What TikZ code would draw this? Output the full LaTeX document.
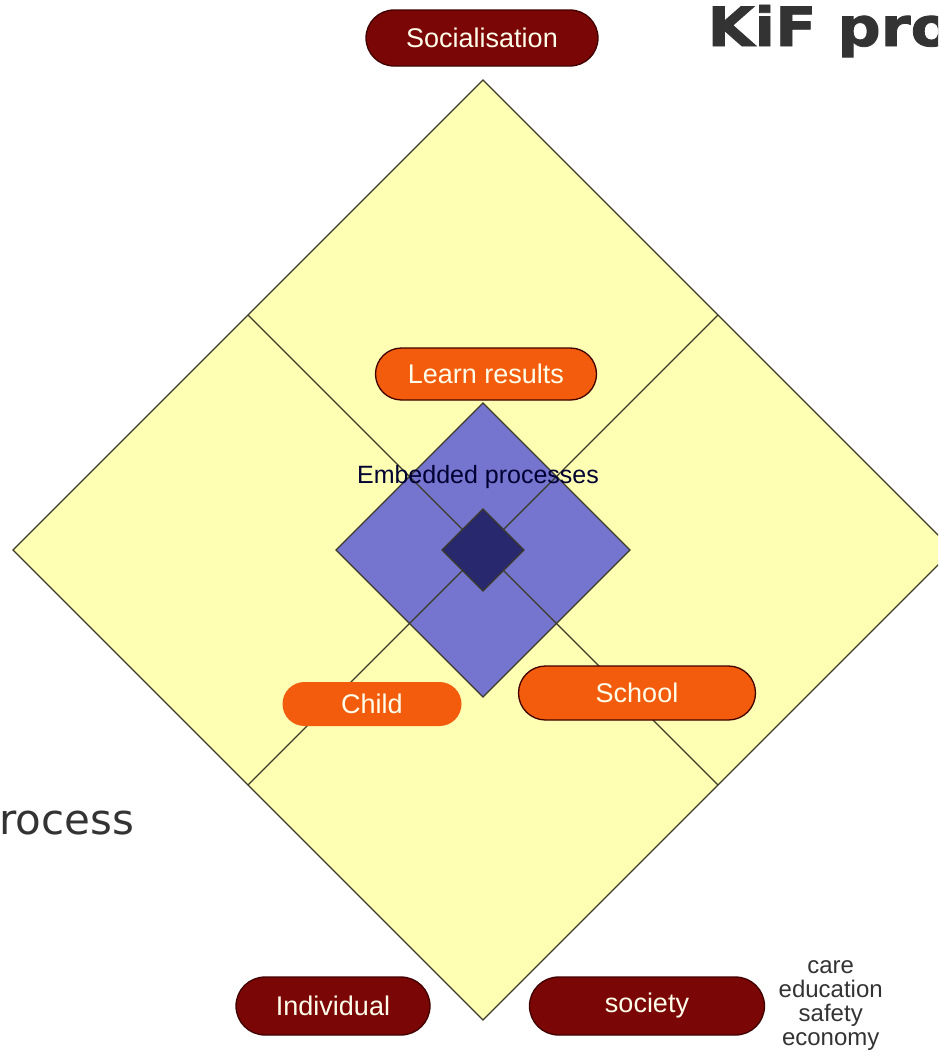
\documentclass[tikz,border=0pt]{standalone}
\usepackage{fontspec}
\setmainfont{Liberation Sans}
\newfontfamily\slidefont{DejaVu Sans}
\newfontfamily\titlefont[FakeStretch=1.12,FakeBold=1.5]{DejaVu Sans Bold}
\usetikzlibrary{shapes.misc,positioning}
\definecolor{quadyellow}{RGB}{255,255,180}
\definecolor{embedblue}{RGB}{117,117,208}
\definecolor{coreblue}{RGB}{40,40,110}
\definecolor{pillred}{RGB}{122,6,6}
\definecolor{pillorange}{RGB}{242,92,12}
\definecolor{edgegray}{RGB}{60,58,40}
\definecolor{slidegray}{RGB}{51,51,51}
\tikzset{pill/.style={rounded rectangle,draw=black!75!red,line width=1.3pt,
           text=white!92!yellow,inner sep=0pt,font=\fontsize{27}{30}\selectfont},
         outcome/.style={pill,fill=pillred},
         factor/.style={pill,fill=pillorange},
         quad/.style={draw=edgegray,line width=1.2pt}}

\begin{document}
\begin{tikzpicture}[x=1pt,y=-1pt]
\useasboundingbox (0,0) rectangle (938,1058);
\clip (0,0) rectangle (938,1058);
% big square split in four
\draw[quad,fill=quadyellow] (483,80) -- ++(470,470) -- ++(-470,470) -- ++(-470,-470) -- cycle;
\coordinate (tl) at (248,315);
\coordinate (tr) at (718,315);
\coordinate (bl) at (248,785);
\coordinate (br) at (718,785);
% embedded processes
\draw[quad,fill=embedblue] (483,403) -- ++(147,147) -- ++(-147,147) -- ++(-147,-147) -- cycle;
\path[quad] (tl) edge (br) (tr) edge (bl);
\draw[quad,fill=coreblue] (483,509) -- ++(41,41) -- ++(-41,41) -- ++(-41,-41) -- cycle;
\node[text=black!80!blue,font=\fontsize{25}{28}\selectfont] (embed) at (478,477) {Embedded processes};
% labels
\node[outcome,minimum width=232,minimum height=56] (social) at (482,38) {Socialisation};
\node[factor,minimum width=221,minimum height=52] (learn) at (486,374) {Learn results};
\node[factor,draw=none,minimum width=179,minimum height=44] (child) at (372,704) {Child};
\node[factor,minimum width=237,minimum height=54] (school) at (637,693) {School};
\node[outcome,minimum width=194,minimum height=58] (indiv) at (333,1006) {Individual};
\node[outcome,minimum width=235,minimum height=58] (society) at (647,1006) {society};
\node[right=10pt of society,align=center,text=slidegray,
      font=\fontsize{24}{24}\selectfont] (sectors) {care\\education\\safety\\economy};
% slide text around it
\node[anchor=base west,text=slidegray,font=\titlefont\fontsize{54}{56}\selectfont] (title) at (704,46) {KiF pro};
\node[anchor=base west,text=slidegray,font=\slidefont\fontsize{42}{44}\selectfont] (side) at (-4,834) {rocess};
\end{tikzpicture}
\end{document}
